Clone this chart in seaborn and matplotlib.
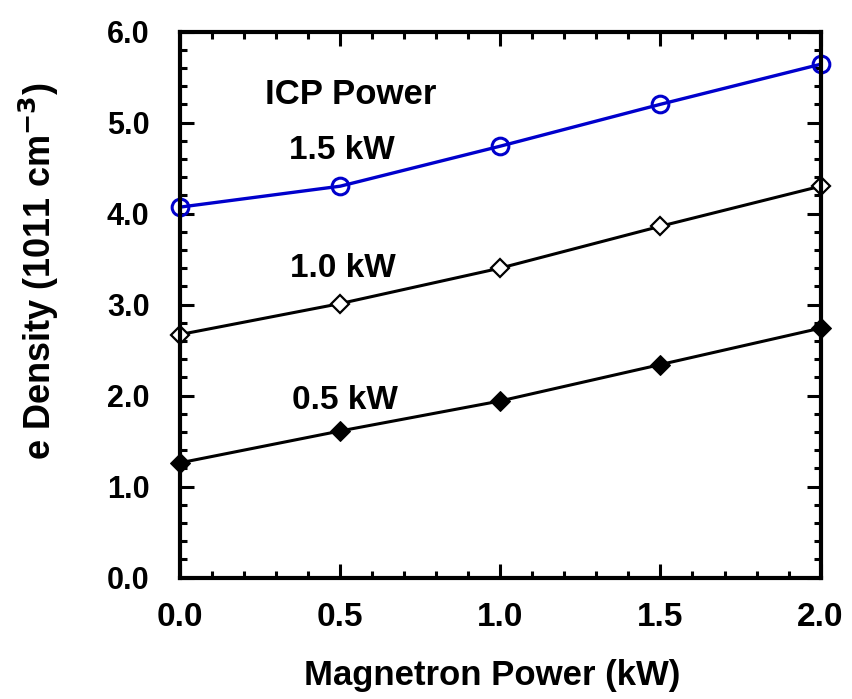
import matplotlib
matplotlib.use("Agg")
import matplotlib.pyplot as plt
import seaborn as sns
import pandas as pd
from matplotlib.ticker import MultipleLocator, FormatStrFormatter

magnetron = [0.0, 0.5, 1.0, 1.5, 2.0]
icp_15 = [4.07, 4.30, 4.74, 5.20, 5.64]
icp_10 = [2.67, 3.01, 3.40, 3.86, 4.30]
icp_05 = [1.26, 1.61, 1.94, 2.34, 2.74]
series_labels = ["1.5 kW", "1.0 kW", "0.5 kW"]

sns.set_theme(style="ticks")
plt.rcParams['font.family'] = ['Liberation Sans', 'DejaVu Sans']
plt.rcParams['font.weight'] = 'bold'
plt.rcParams['mathtext.default'] = 'bf'
plt.rcParams['text.color'] = 'black'
plt.rcParams['axes.labelcolor'] = 'black'
plt.rcParams['xtick.color'] = 'black'
plt.rcParams['ytick.color'] = 'black'

fig = plt.figure(figsize=(8.52, 6.99), dpi=100)
ax = fig.add_axes([180/852, 1-577.5/699, 640.6/852, 546/699])

df15 = pd.DataFrame({"x": magnetron, "y": icp_15})
df10 = pd.DataFrame({"x": magnetron, "y": icp_10})
df05 = pd.DataFrame({"x": magnetron, "y": icp_05})

sns.lineplot(data=df15, x="x", y="y", ax=ax, color="#0000cc", lw=2.4,
             marker="o", markersize=12, markerfacecolor="none",
             markeredgecolor="#0000cc", markeredgewidth=2.2, clip_on=False)
sns.lineplot(data=df10, x="x", y="y", ax=ax, color="black", lw=2.2,
             marker="D", markersize=9, markerfacecolor="white",
             markeredgecolor="black", markeredgewidth=1.6, clip_on=False)
sns.lineplot(data=df05, x="x", y="y", ax=ax, color="black", lw=2.2,
             marker="D", markersize=10, markerfacecolor="black",
             markeredgecolor="black", clip_on=False)

ax.set_xlim(0, 2.0)
ax.set_ylim(0, 6.0)
ax.xaxis.set_major_locator(MultipleLocator(0.5))
ax.xaxis.set_minor_locator(MultipleLocator(0.1))
ax.yaxis.set_major_locator(MultipleLocator(1.0))
ax.yaxis.set_minor_locator(MultipleLocator(0.2))
ax.xaxis.set_major_formatter(FormatStrFormatter('%.1f'))
ax.yaxis.set_major_formatter(FormatStrFormatter('%.1f'))

ax.tick_params(which='both', direction='in', top=True, right=True, width=2.2, color='black')
ax.tick_params(which='major', length=10)
ax.tick_params(which='minor', length=5)
ax.tick_params(axis='x', which='major', pad=18, labelsize=24, labelcolor='black')
ax.tick_params(axis='y', which='major', pad=22, labelsize=22, labelcolor='black')
for lab in ax.get_xticklabels() + ax.get_yticklabels():
    lab.set_fontweight('bold')
for sp in ax.spines.values():
    sp.set_linewidth(3)
    sp.set_color('black')

ax.set_xlabel("Magnetron Power (kW)", fontsize=25, fontweight='bold', color='black')
ax.set_ylabel("e Density (1011 cm$^{-3}$)", fontsize=26, fontweight='bold', color='black')
ax.xaxis.set_label_coords(0.487, -0.15)
ax.yaxis.set_label_coords(-0.186, 0.561)

ax.text(0.534, 5.31, "ICP Power", fontsize=25, fontweight='bold', ha='center', va='center', color='black')
ax.text(0.506, 4.69, series_labels[0], fontsize=24, fontweight='bold', ha='center', va='center', color='black')
ax.text(0.51, 3.40, series_labels[1], fontsize=24, fontweight='bold', ha='center', va='center', color='black')
ax.text(0.515, 1.95, series_labels[2], fontsize=24, fontweight='bold', ha='center', va='center', color='black')

fig.savefig("out.png", dpi=100)
